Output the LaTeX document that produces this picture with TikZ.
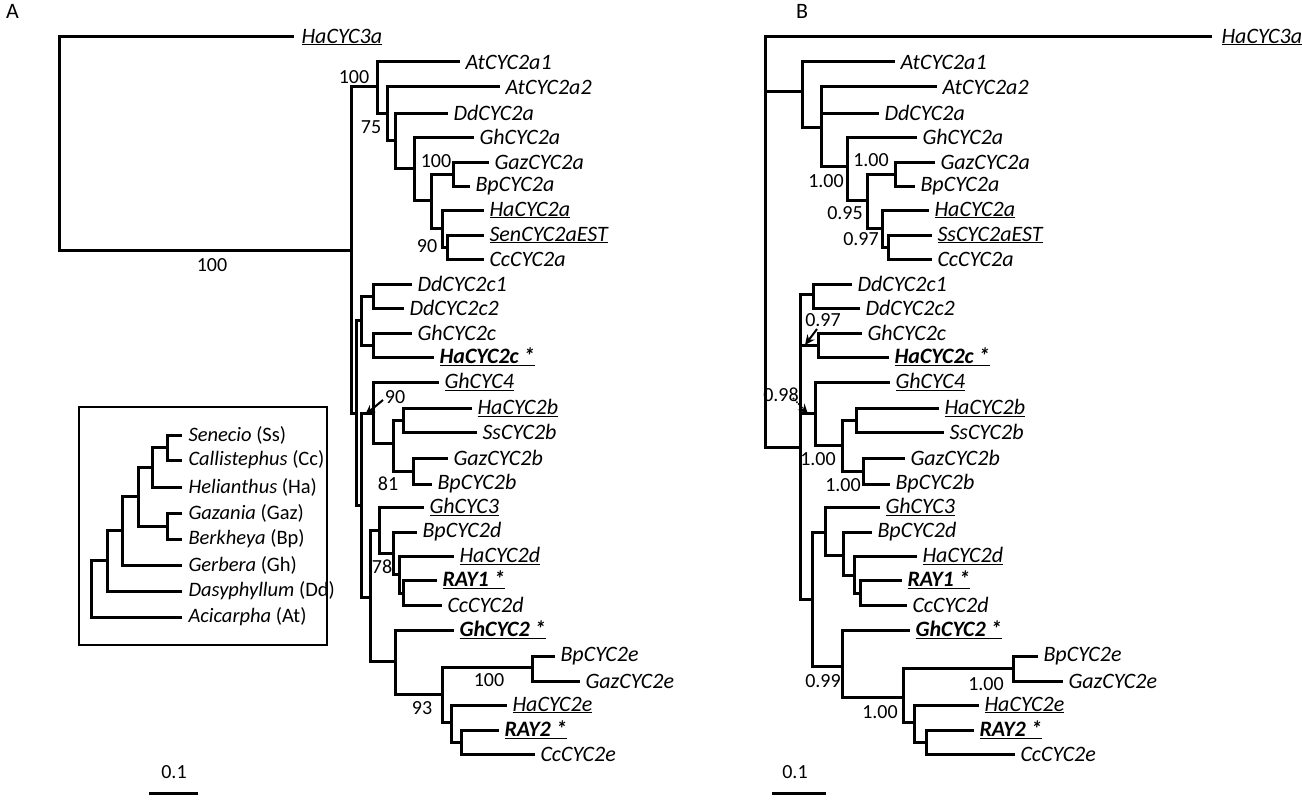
\documentclass[tikz,border=0pt]{standalone}
\usepackage{fontspec}
\setmainfont{Carlito}
\usetikzlibrary{arrows.meta}
\newcommand\ul[1]{\underline{#1}}
\newcommand\bu[1]{\underline{\textbf{#1 *}}}
\begin{document}
\begin{tikzpicture}[x=1pt,y=-1pt,
  br/.style={line width=3pt,line cap=rect,line join=miter},
  lab/.style={font=\fontsize{22}{22}\selectfont\itshape,anchor=west,inner sep=0pt,xshift=6pt},
  num/.style={font=\fontsize{20}{20}\selectfont,inner sep=0pt},
  rlab/.style={font=\fontsize{20.5}{20.5}\selectfont,anchor=west,inner sep=0pt,xshift=7pt}]
\useasboundingbox[fill=white] (0,0) rectangle (1302,800);
\node[num,anchor=north west,font=\fontsize{22}{22}\selectfont] (pA) at (6,4) {A};
\node[num,anchor=north west,font=\fontsize{22}{22}\selectfont] (pB) at (796,4) {B};
% ---------- Tree A ----------
\draw[br] (292,37) node[lab,xshift=2pt]{\ul{HaCYC3a}} -- (59,37) -- (59,250) -- (351,250);
\draw[br] (351,87) -- (351,413);
\draw[br] (351,87) -- (377,87);
\draw[br] (377,62) -- (377,113);
\draw[br] (377,62) -- (458,62) node[lab]{AtCYC2a1};
\draw[br] (377,113) -- (387,113) (387,87) -- (387,140);
\draw[br] (387,87) -- (498,87) node[lab]{AtCYC2a2};
\draw[br] (387,140) -- (395,140) (395,113) -- (395,168);
\draw[br] (395,113) -- (446,113) node[lab]{DdCYC2a};
\draw[br] (395,168) -- (414,168) (414,137) -- (414,200);
\draw[br] (414,137) -- (472,137) node[lab]{GhCYC2a};
\draw[br] (414,200) -- (431,200) (431,174) -- (431,228);
\draw[br] (431,174) -- (453,174) (453,162) -- (453,186);
\draw[br] (453,162) -- (487,162) node[lab]{GazCYC2a};
\draw[br] (453,186) -- (468,186) node[lab]{BpCYC2a};
\draw[br] (431,228) -- (442,228) (442,210) -- (442,247);
\draw[br] (442,210) -- (482,210) node[lab]{\ul{HaCYC2a}};
\draw[br] (442,247) -- (447,247) (447,235) -- (447,259);
\draw[br] (447,235) -- (482,235) node[lab]{\ul{SenCYC2aEST}};
\draw[br] (447,259) -- (482,259) node[lab]{CcCYC2a};
\draw[br] (351,413) -- (356,413) (356,320) -- (356,505);
\draw[br] (356,320) -- (361,320) (361,296) -- (361,345);
\draw[br] (361,296) -- (373,296) (373,284) -- (373,308);
\draw[br] (373,284) -- (410,284) node[lab]{DdCYC2c1};
\draw[br] (373,308) -- (402,308) node[lab]{DdCYC2c2};
\draw[br] (361,345) -- (373,345) (373,333) -- (373,357);
\draw[br] (373,333) -- (410,333) node[lab]{GhCYC2c};
\draw[br] (373,357) -- (432,357) node[lab]{\bu{HaCYC2c}};
\draw[br] (356,505) -- (361,505) (361,413) -- (361,597);
\draw[br] (361,413) -- (373,413) (373,382) -- (373,443);
\draw[br] (373,382) -- (437,382) node[lab]{\ul{GhCYC4}};
\draw[br] (373,443) -- (393,443) (393,420) -- (393,471);
\draw[br] (393,420) -- (403,420) (403,408) -- (403,432);
\draw[br] (403,408) -- (470,408) node[lab]{\ul{HaCYC2b}};
\draw[br] (403,432) -- (475,432) node[lab]{SsCYC2b};
\draw[br] (393,471) -- (413,471) (413,458) -- (413,484);
\draw[br] (413,458) -- (446,458) node[lab]{GazCYC2b};
\draw[br] (413,484) -- (430,484) node[lab]{BpCYC2b};
\draw[br] (361,597) -- (370,597) (370,530) -- (370,661);
\draw[br] (370,530) -- (379,530) (379,507) -- (379,553);
\draw[br] (379,507) -- (422,507) node[lab]{\ul{GhCYC3}};
\draw[br] (379,553) -- (393,553) (393,532) -- (393,574);
\draw[br] (393,532) -- (415,532) node[lab]{BpCYC2d};
\draw[br] (393,574) -- (399,574) (399,556) -- (399,593);
\draw[br] (399,556) -- (452,556) node[lab]{\ul{HaCYC2d}};
\draw[br] (399,593) -- (403,593) (403,580) -- (403,605);
\draw[br] (403,580) -- (435,580) node[lab]{\bu{RAY1}};
\draw[br] (403,605) -- (440,605) node[lab]{CcCYC2d};
\draw[br] (370,661) -- (395,661) (395,630) -- (395,694);
\draw[br] (395,630) -- (452,630) node[lab]{\bu{GhCYC2}};
\draw[br] (395,694) -- (442,694) (442,667) -- (442,722);
\draw[br] (442,667) -- (532,667) (532,656) -- (532,681);
\draw[br] (532,656) -- (553,656) node[lab]{BpCYC2e};
\draw[br] (532,681) -- (578,681) node[lab]{GazCYC2e};
\draw[br] (442,722) -- (451,722) (451,705) -- (451,742);
\draw[br] (451,705) -- (505,705) node[lab]{\ul{HaCYC2e}};
\draw[br] (451,742) -- (461,742) (461,730) -- (461,754);
\draw[br] (461,730) -- (497,730) node[lab]{\bu{RAY2}};
\draw[br] (461,754) -- (533,754) node[lab]{CcCYC2e};
\draw[line width=2pt,-{Stealth[length=10pt,width=9pt]}] (383,400) -- (365,415);
\node[num] (a1) at (354,77) {100};
\node[num] (a2) at (371,127) {75};
\node[num] (a3) at (436,161) {100};
\node[num] (a4) at (427,246) {90};
\node[num] (a5) at (212,265) {100};
\node[num] (a6) at (395,397) {90};
\node[num] (a7) at (388,484) {81};
\node[num] (a8) at (382,567) {78};
\node[num] (a9) at (489,680) {100};
\node[num] (a10) at (422,708) {93};
\node[num] (sA) at (174,772) {0.1};
\draw[br,line cap=butt] (149,793) -- (198,793);
% ---------- inset ----------
\draw[line width=1.5pt] (79,407) rectangle (327,645);
\draw[br] (167,435) -- (180,435) node[rlab]{\textit{Senecio} (Ss)};
\draw[br] (167,460) -- (180,460) node[rlab]{\textit{Callistephus} (Cc)};
\draw[br] (167,435) -- (167,460) (167,447) -- (152,447) (152,447) -- (152,487);
\draw[br] (152,487) -- (180,487) node[rlab]{\textit{Helianthus} (Ha)};
\draw[br] (167,513) -- (180,513) node[rlab]{\textit{Gazania} (Gaz)};
\draw[br] (167,539) -- (180,539) node[rlab]{\textit{Berkheya} (Bp)};
\draw[br] (167,513) -- (167,539) (167,526) -- (138,526) (152,467) -- (138,467) (138,467) -- (138,526);
\draw[br] (138,496) -- (122,496) (122,496) -- (122,565);
\draw[br] (122,565) -- (180,565) node[rlab]{\textit{Gerbera} (Gh)};
\draw[br] (122,530) -- (107,530) (107,530) -- (107,591);
\draw[br] (107,591) -- (180,591) node[rlab]{\textit{Dasyphyllum} (Dd)};
\draw[br] (107,560) -- (91,560) (91,560) -- (91,617);
\draw[br] (91,617) -- (180,617) node[rlab]{\textit{Acicarpha} (At)};
% ---------- Tree B ----------
\draw[br] (1210,37) node[lab,xshift=4pt]{\ul{HaCYC3a}} -- (765,37) -- (765,447) -- (800,447);
\draw[br] (765,92) -- (802,92) (802,62) -- (802,127);
\draw[br] (802,62) -- (893,62) node[lab]{AtCYC2a1};
\draw[br] (802,127) -- (821,127) (821,87) -- (821,166);
\draw[br] (821,87) -- (935,87) node[lab]{AtCYC2a2};
\draw[br] (821,113) -- (877,113) node[lab]{DdCYC2a};
\draw[br] (821,166) -- (847,166) (847,137) -- (847,200);
\draw[br] (847,137) -- (915,137) node[lab]{GhCYC2a};
\draw[br] (847,200) -- (867,200) (867,174) -- (867,228);
\draw[br] (867,174) -- (895,174) (895,162) -- (895,186);
\draw[br] (895,162) -- (933,162) node[lab]{GazCYC2a};
\draw[br] (895,186) -- (913,186) node[lab]{BpCYC2a};
\draw[br] (867,228) -- (882,228) (882,210) -- (882,247);
\draw[br] (882,210) -- (927,210) node[lab]{\ul{HaCYC2a}};
\draw[br] (882,247) -- (888,247) (888,235) -- (888,259);
\draw[br] (888,235) -- (930,235) node[lab]{\ul{SsCYC2aEST}};
\draw[br] (888,259) -- (930,259) node[lab]{CcCYC2a};
\draw[br] (800,294) -- (800,599);
\draw[br] (800,294) -- (813,294) (813,284) -- (813,308);
\draw[br] (813,284) -- (850,284) node[lab]{DdCYC2c1};
\draw[br] (813,308) -- (858,308) node[lab]{DdCYC2c2};
\draw[br] (800,345) -- (818,345) (818,333) -- (818,357);
\draw[br] (818,333) -- (860,333) node[lab]{GhCYC2c};
\draw[br] (818,357) -- (887,357) node[lab]{\bu{HaCYC2c}};
\draw[br] (800,413) -- (815,413) (815,382) -- (815,445);
\draw[br] (815,382) -- (888,382) node[lab]{\ul{GhCYC4}};
\draw[br] (815,445) -- (842,445) (842,420) -- (842,471);
\draw[br] (842,420) -- (856,420) (856,408) -- (856,432);
\draw[br] (856,408) -- (937,408) node[lab]{\ul{HaCYC2b}};
\draw[br] (856,432) -- (942,432) node[lab]{SsCYC2b};
\draw[br] (842,471) -- (863,471) (863,458) -- (863,484);
\draw[br] (863,458) -- (903,458) node[lab]{GazCYC2b};
\draw[br] (863,484) -- (888,484) node[lab]{BpCYC2b};
\draw[br] (800,599) -- (812,599) (812,532) -- (812,666);
\draw[br] (812,532) -- (825,532) (825,507) -- (825,555);
\draw[br] (825,507) -- (878,507) node[lab]{\ul{GhCYC3}};
\draw[br] (825,555) -- (843,555) (843,532) -- (843,575);
\draw[br] (843,532) -- (870,532) node[lab]{BpCYC2d};
\draw[br] (843,575) -- (854,575) (854,556) -- (854,593);
\draw[br] (854,556) -- (915,556) node[lab]{\ul{HaCYC2d}};
\draw[br] (854,593) -- (860,593) (860,580) -- (860,605);
\draw[br] (860,580) -- (900,580) node[lab]{\bu{RAY1}};
\draw[br] (860,605) -- (905,605) node[lab]{CcCYC2d};
\draw[br] (812,666) -- (842,666) (842,630) -- (842,697);
\draw[br] (842,630) -- (908,630) node[lab]{\bu{GhCYC2}};
\draw[br] (842,697) -- (903,697) (903,668) -- (903,722);
\draw[br] (903,668) -- (1013,668) (1013,656) -- (1013,681);
\draw[br] (1013,656) -- (1036,656) node[lab]{BpCYC2e};
\draw[br] (1013,681) -- (1061,681) node[lab]{GazCYC2e};
\draw[br] (903,722) -- (914,722) (914,705) -- (914,742);
\draw[br] (914,705) -- (977,705) node[lab]{\ul{HaCYC2e}};
\draw[br] (914,742) -- (926,742) (926,730) -- (926,754);
\draw[br] (926,730) -- (972,730) node[lab]{\bu{RAY2}};
\draw[br] (926,754) -- (1013,754) node[lab]{CcCYC2e};
\draw[line width=2pt,-{Stealth[length=10pt,width=9pt]}] (817,329) -- (805,345);
\draw[line width=1.5pt,densely dotted,-{Stealth[length=10pt,width=9pt]}] (793,398) -- (808,414);
\node[num] (b1) at (871,160) {1.00};
\node[num] (b2) at (826,181) {1.00};
\node[num] (b3) at (845,213) {0.95};
\node[num] (b4) at (861,239) {0.97};
\node[num] (b5) at (823,320) {0.97};
\node[num] (b6) at (781,395) {0.98};
\node[num] (b7) at (818,459) {1.00};
\node[num] (b8) at (843,485) {1.00};
\node[num] (b9) at (823,681) {0.99};
\node[num] (b10) at (986,684) {1.00};
\node[num] (b11) at (880,712) {1.00};
\node[num] (sB) at (795,772) {0.1};
\draw[br,line cap=butt] (772,793) -- (826,793);
\end{tikzpicture}
\end{document}
